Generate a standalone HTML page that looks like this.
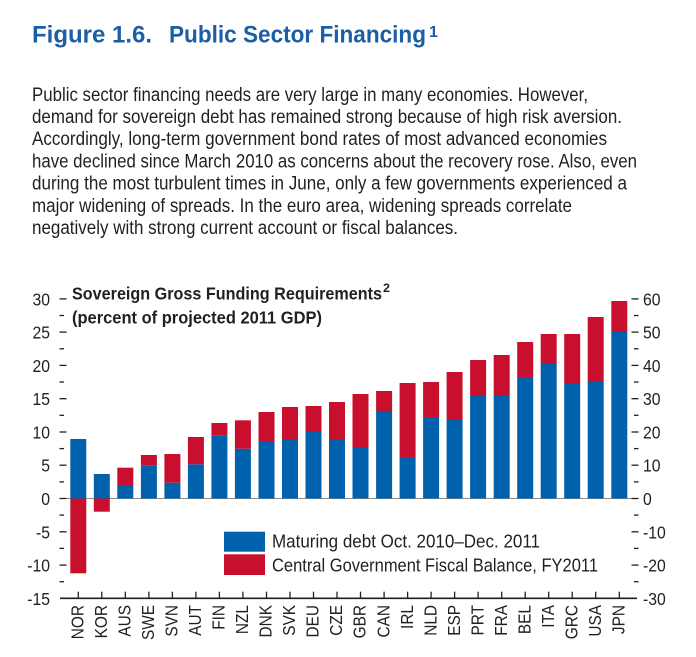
<!DOCTYPE html>
<html><head><meta charset="utf-8"><style>
html,body{margin:0;padding:0;background:#fff;}
svg{display:block;}
text{font-family:"Liberation Sans",sans-serif;}
</style></head><body>
<svg width="696" height="657" viewBox="0 0 696 657" xmlns="http://www.w3.org/2000/svg">
<rect width="696" height="657" fill="#fff"/>
<!-- Title -->
<g fill="#1b5ea6" font-weight="bold" font-size="24">
<text x="32" y="42.3" textLength="120" lengthAdjust="spacingAndGlyphs">Figure 1.6.</text>
<text x="169" y="42.3" textLength="257" lengthAdjust="spacingAndGlyphs">Public Sector Financing</text>
<text x="429" y="37" font-size="16" textLength="9" lengthAdjust="spacingAndGlyphs">1</text>
</g>
<!-- Paragraph -->
<g fill="#231f20" font-size="19.6">
<text x="32" y="100.8" textLength="556" lengthAdjust="spacingAndGlyphs">Public sector financing needs are very large in many economies. However,</text>
<text x="32" y="123" textLength="590" lengthAdjust="spacingAndGlyphs">demand for sovereign debt has remained strong because of high risk aversion.</text>
<text x="32" y="145.2" textLength="575" lengthAdjust="spacingAndGlyphs">Accordingly, long-term government bond rates of most advanced economies</text>
<text x="32" y="167.4" textLength="605" lengthAdjust="spacingAndGlyphs">have declined since March 2010 as concerns about the recovery rose. Also, even</text>
<text x="32" y="189.6" textLength="595" lengthAdjust="spacingAndGlyphs">during the most turbulent times in June, only a few governments experienced a</text>
<text x="32" y="211.8" textLength="540" lengthAdjust="spacingAndGlyphs">major widening of spreads. In the euro area, widening spreads correlate</text>
<text x="32" y="234" textLength="426" lengthAdjust="spacingAndGlyphs">negatively with strong current account or fiscal balances.</text>
</g>
<!-- Chart subtitle -->
<g fill="#231f20" font-weight="bold" font-size="17.5">
<text x="72" y="299.3" textLength="310" lengthAdjust="spacingAndGlyphs">Sovereign Gross Funding Requirements</text>
<text x="383" y="292" font-size="12" textLength="7" lengthAdjust="spacingAndGlyphs">2</text>
<text x="72" y="323.3" textLength="250" lengthAdjust="spacingAndGlyphs">(percent of projected 2011 GDP)</text>
</g>
<!-- Zero line -->
<line x1="60" y1="498.5" x2="637" y2="498.5" stroke="#8c8c8c" stroke-width="1"/>
<g>
<!-- blue -->
<g fill="#0061ac">
<rect x="70.3" y="439" width="16" height="59.5"/>
<rect x="93.8" y="474" width="16" height="24.5"/>
<rect x="117.3" y="486" width="16" height="12.5"/>
<rect x="140.9" y="465.7" width="16" height="32.8"/>
<rect x="164.4" y="482.7" width="16" height="15.8"/>
<rect x="187.9" y="464.3" width="16" height="34.2"/>
<rect x="211.4" y="435.7" width="16" height="62.8"/>
<rect x="234.9" y="448.7" width="16" height="49.8"/>
<rect x="258.5" y="442" width="16" height="56.5"/>
<rect x="282" y="439" width="16" height="59.5"/>
<rect x="305.5" y="432" width="16" height="66.5"/>
<rect x="329" y="440" width="16" height="58.5"/>
<rect x="352.5" y="448" width="16" height="50.5"/>
<rect x="376.1" y="411" width="16" height="87.5"/>
<rect x="399.6" y="457" width="16" height="41.5"/>
<rect x="423.1" y="417" width="16" height="81.5"/>
<rect x="446.6" y="419" width="16" height="79.5"/>
<rect x="470.1" y="396" width="16" height="102.5"/>
<rect x="493.7" y="396" width="16" height="102.5"/>
<rect x="517.2" y="377" width="16" height="121.5"/>
<rect x="540.7" y="364" width="16" height="134.5"/>
<rect x="564.2" y="384" width="16" height="114.5"/>
<rect x="587.7" y="382" width="16" height="116.5"/>
<rect x="611.3" y="332" width="16" height="166.5"/>
</g>
<!-- red -->
<g fill="#c8102e">
<rect x="70.3" y="498.5" width="16" height="74.8"/>
<rect x="93.8" y="498.5" width="16" height="13.2"/>
<rect x="117.3" y="467.7" width="16" height="18.3"/>
<rect x="140.9" y="455" width="16" height="10.7"/>
<rect x="164.4" y="454" width="16" height="28.7"/>
<rect x="187.9" y="437" width="16" height="27.3"/>
<rect x="211.4" y="423" width="16" height="12.7"/>
<rect x="234.9" y="420.3" width="16" height="28.4"/>
<rect x="258.5" y="412" width="16" height="30"/>
<rect x="282" y="407" width="16" height="32"/>
<rect x="305.5" y="406" width="16" height="26"/>
<rect x="329" y="402" width="16" height="38"/>
<rect x="352.5" y="394" width="16" height="54"/>
<rect x="376.1" y="391" width="16" height="20"/>
<rect x="399.6" y="383" width="16" height="74"/>
<rect x="423.1" y="382" width="16" height="35"/>
<rect x="446.6" y="372" width="16" height="47"/>
<rect x="470.1" y="360" width="16" height="36"/>
<rect x="493.7" y="355" width="16" height="41"/>
<rect x="517.2" y="342" width="16" height="35"/>
<rect x="540.7" y="334" width="16" height="30"/>
<rect x="564.2" y="334" width="16" height="50"/>
<rect x="587.7" y="317" width="16" height="65"/>
<rect x="611.3" y="301" width="16" height="31"/>
</g>
</g>
<!-- Left ticks -->
<g stroke="#231f20" stroke-width="1.3">
<line x1="59.5" y1="298.9" x2="66.5" y2="298.9"/>
<line x1="59.5" y1="315.5" x2="64" y2="315.5"/>
<line x1="59.5" y1="332.1" x2="66.5" y2="332.1"/>
<line x1="59.5" y1="348.8" x2="64" y2="348.8"/>
<line x1="59.5" y1="365.4" x2="66.5" y2="365.4"/>
<line x1="59.5" y1="382" x2="64" y2="382"/>
<line x1="59.5" y1="398.7" x2="66.5" y2="398.7"/>
<line x1="59.5" y1="415.3" x2="64" y2="415.3"/>
<line x1="59.5" y1="432" x2="66.5" y2="432"/>
<line x1="59.5" y1="448.6" x2="64" y2="448.6"/>
<line x1="59.5" y1="465.2" x2="66.5" y2="465.2"/>
<line x1="59.5" y1="481.9" x2="64" y2="481.9"/>
<line x1="59.5" y1="498.5" x2="66.5" y2="498.5"/>
<line x1="59.5" y1="515.1" x2="64" y2="515.1"/>
<line x1="59.5" y1="531.8" x2="66.5" y2="531.8"/>
<line x1="59.5" y1="548.4" x2="64" y2="548.4"/>
<line x1="59.5" y1="565.1" x2="66.5" y2="565.1"/>
<line x1="59.5" y1="581.7" x2="64" y2="581.7"/>
<!-- right -->
<line x1="631.5" y1="298.9" x2="638.5" y2="298.9"/>
<line x1="634" y1="315.5" x2="638.5" y2="315.5"/>
<line x1="631.5" y1="332.1" x2="638.5" y2="332.1"/>
<line x1="634" y1="348.8" x2="638.5" y2="348.8"/>
<line x1="631.5" y1="365.4" x2="638.5" y2="365.4"/>
<line x1="634" y1="382" x2="638.5" y2="382"/>
<line x1="631.5" y1="398.7" x2="638.5" y2="398.7"/>
<line x1="634" y1="415.3" x2="638.5" y2="415.3"/>
<line x1="631.5" y1="432" x2="638.5" y2="432"/>
<line x1="634" y1="448.6" x2="638.5" y2="448.6"/>
<line x1="631.5" y1="465.2" x2="638.5" y2="465.2"/>
<line x1="634" y1="481.9" x2="638.5" y2="481.9"/>
<line x1="631.5" y1="498.5" x2="638.5" y2="498.5"/>
<line x1="634" y1="515.1" x2="638.5" y2="515.1"/>
<line x1="631.5" y1="531.8" x2="638.5" y2="531.8"/>
<line x1="634" y1="548.4" x2="638.5" y2="548.4"/>
<line x1="631.5" y1="565.1" x2="638.5" y2="565.1"/>
<line x1="634" y1="581.7" x2="638.5" y2="581.7"/>
</g>
<!-- x axis -->
<line x1="60" y1="598.3" x2="637" y2="598.3" stroke="#231f20" stroke-width="1.6"/>
<g stroke="#231f20" stroke-width="1.3">
<line x1="78.3" y1="591.7" x2="78.3" y2="598"/>
<line x1="101.8" y1="591.7" x2="101.8" y2="598"/>
<line x1="125.3" y1="591.7" x2="125.3" y2="598"/>
<line x1="148.9" y1="591.7" x2="148.9" y2="598"/>
<line x1="172.4" y1="591.7" x2="172.4" y2="598"/>
<line x1="195.9" y1="591.7" x2="195.9" y2="598"/>
<line x1="219.4" y1="591.7" x2="219.4" y2="598"/>
<line x1="242.9" y1="591.7" x2="242.9" y2="598"/>
<line x1="266.5" y1="591.7" x2="266.5" y2="598"/>
<line x1="290" y1="591.7" x2="290" y2="598"/>
<line x1="313.5" y1="591.7" x2="313.5" y2="598"/>
<line x1="337" y1="591.7" x2="337" y2="598"/>
<line x1="360.5" y1="591.7" x2="360.5" y2="598"/>
<line x1="384.1" y1="591.7" x2="384.1" y2="598"/>
<line x1="407.6" y1="591.7" x2="407.6" y2="598"/>
<line x1="431.1" y1="591.7" x2="431.1" y2="598"/>
<line x1="454.6" y1="591.7" x2="454.6" y2="598"/>
<line x1="478.1" y1="591.7" x2="478.1" y2="598"/>
<line x1="501.7" y1="591.7" x2="501.7" y2="598"/>
<line x1="525.2" y1="591.7" x2="525.2" y2="598"/>
<line x1="548.7" y1="591.7" x2="548.7" y2="598"/>
<line x1="572.2" y1="591.7" x2="572.2" y2="598"/>
<line x1="595.7" y1="591.7" x2="595.7" y2="598"/>
<line x1="619.3" y1="591.7" x2="619.3" y2="598"/>
</g>
<!-- Left labels -->
<g fill="#231f20" font-size="17.5" text-anchor="end">
<text transform="translate(50,305.4) scale(0.9,1)">30</text>
<text transform="translate(50,338.6) scale(0.9,1)">25</text>
<text transform="translate(50,371.9) scale(0.9,1)">20</text>
<text transform="translate(50,405.2) scale(0.9,1)">15</text>
<text transform="translate(50,438.5) scale(0.9,1)">10</text>
<text transform="translate(50,471.7) scale(0.9,1)">5</text>
<text transform="translate(50,505) scale(0.9,1)">0</text>
<text transform="translate(50,538.3) scale(0.9,1)">-5</text>
<text transform="translate(50,571.6) scale(0.9,1)">-10</text>
<text transform="translate(50,604.8) scale(0.9,1)">-15</text>
</g>
<!-- Right labels -->
<g fill="#231f20" font-size="17.5">
<text transform="translate(643,305.4) scale(0.9,1)">60</text>
<text transform="translate(643,338.6) scale(0.9,1)">50</text>
<text transform="translate(643,371.9) scale(0.9,1)">40</text>
<text transform="translate(643,405.2) scale(0.9,1)">30</text>
<text transform="translate(643,438.5) scale(0.9,1)">20</text>
<text transform="translate(643,471.7) scale(0.9,1)">10</text>
<text transform="translate(643,505) scale(0.9,1)">0</text>
<text transform="translate(643,538.3) scale(0.9,1)">-10</text>
<text transform="translate(643,571.6) scale(0.9,1)">-20</text>
<text transform="translate(643,604.8) scale(0.9,1)">-30</text>
</g>
<!-- X labels -->
<g fill="#231f20" font-size="17.5" text-anchor="end">
<text transform="translate(83.5,605) rotate(-90) scale(0.88,1)">NOR</text>
<text transform="translate(107,605) rotate(-90) scale(0.88,1)">KOR</text>
<text transform="translate(130.5,605) rotate(-90) scale(0.88,1)">AUS</text>
<text transform="translate(154.1,605) rotate(-90) scale(0.88,1)">SWE</text>
<text transform="translate(177.6,605) rotate(-90) scale(0.88,1)">SVN</text>
<text transform="translate(201.1,605) rotate(-90) scale(0.88,1)">AUT</text>
<text transform="translate(224.6,605) rotate(-90) scale(0.88,1)">FIN</text>
<text transform="translate(248.1,605) rotate(-90) scale(0.88,1)">NZL</text>
<text transform="translate(271.7,605) rotate(-90) scale(0.88,1)">DNK</text>
<text transform="translate(295.2,605) rotate(-90) scale(0.88,1)">SVK</text>
<text transform="translate(318.7,605) rotate(-90) scale(0.88,1)">DEU</text>
<text transform="translate(342.2,605) rotate(-90) scale(0.88,1)">CZE</text>
<text transform="translate(365.7,605) rotate(-90) scale(0.88,1)">GBR</text>
<text transform="translate(389.3,605) rotate(-90) scale(0.88,1)">CAN</text>
<text transform="translate(412.8,605) rotate(-90) scale(0.88,1)">IRL</text>
<text transform="translate(436.3,605) rotate(-90) scale(0.88,1)">NLD</text>
<text transform="translate(459.8,605) rotate(-90) scale(0.88,1)">ESP</text>
<text transform="translate(483.3,605) rotate(-90) scale(0.88,1)">PRT</text>
<text transform="translate(506.9,605) rotate(-90) scale(0.88,1)">FRA</text>
<text transform="translate(530.4,605) rotate(-90) scale(0.88,1)">BEL</text>
<text transform="translate(553.9,605) rotate(-90) scale(0.88,1)">ITA</text>
<text transform="translate(577.4,605) rotate(-90) scale(0.88,1)">GRC</text>
<text transform="translate(600.9,605) rotate(-90) scale(0.88,1)">USA</text>
<text transform="translate(624.5,605) rotate(-90) scale(0.88,1)">JPN</text>
</g>
<!-- Legend -->
<rect x="224" y="531.7" width="41" height="20" fill="#0061ac"/>
<rect x="224" y="554.3" width="41" height="20.7" fill="#c8102e"/>
<g fill="#231f20" font-size="18">
<text x="272" y="547.5" textLength="268" lengthAdjust="spacingAndGlyphs">Maturing debt Oct. 2010–Dec. 2011</text>
<text x="272" y="571.7" textLength="326" lengthAdjust="spacingAndGlyphs">Central Government Fiscal Balance, FY2011</text>
</g>
</svg>
</body></html>
